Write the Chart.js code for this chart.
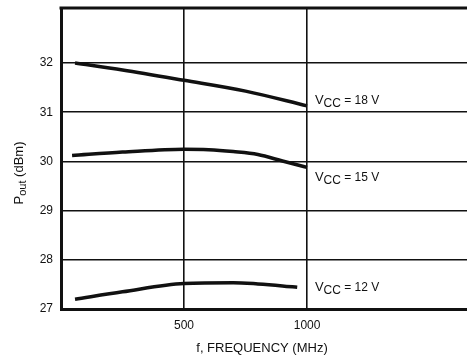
<!DOCTYPE html>
<html><head><meta charset="utf-8">
<script src="https://cdn.jsdelivr.net/npm/chart.js@4"></script>
<style>html,body{margin:0;padding:0;background:#fff;overflow:hidden}canvas{display:block}</style>
</head><body><canvas id="c" width="467" height="360"></canvas>
<script>
// ---- data ----
const freqTicks = [500, 1000];
const poutTicks = [27, 28, 29, 30, 31, 32];
const vccValues = ['18', '15', '12'];
const freq18 = [57, 250, 500, 750, 1000];
const pout18 = [32.0, 31.86, 31.65, 31.43, 31.13];
const freq15 = [45, 250, 500, 600, 700, 800, 900, 1000];
const pout15 = [30.12, 30.19, 30.25, 30.24, 30.2, 30.14, 30.01, 29.88];
const freq12 = [57, 250, 500, 700, 800, 900, 960];
const pout12 = [27.2, 27.35, 27.52, 27.535, 27.51, 27.47, 27.44];
const xTitle = 'f, FREQUENCY (MHz)';

const FONT = '"Liberation Sans Narrow", "Liberation Sans", Arial, sans-serif';
const INK = '#111';
const toPts = (xs, ys) => xs.map((x, i) => ({x, y: ys[i]}));

function mixedWidth(ctx, parts) {
  let w = 0;
  for (const p of parts) { ctx.font = p.size + 'px ' + FONT; w += ctx.measureText(p.t).width; }
  return w;
}
function drawMixed(ctx, parts, x, y) {
  let cx = x;
  for (const p of parts) {
    ctx.font = p.size + 'px ' + FONT;
    ctx.fillText(p.t, cx, y + (p.dy || 0));
    cx += ctx.measureText(p.t).width;
  }
}

const decor = {
  id: 'decor',
  afterDraw(chart) {
    const {ctx, chartArea: a, scales: {x, y}} = chart;
    ctx.save();
    // top frame line
    ctx.strokeStyle = INK; ctx.lineWidth = 3;
    ctx.beginPath(); ctx.moveTo(a.left - 1.5, a.top); ctx.lineTo(a.right, a.top); ctx.stroke();
    ctx.fillStyle = INK;
    ctx.textBaseline = 'alphabetic';
    // series labels
    const anchors = [[1032, 31.17], [1032, 29.60], [1032, 27.37]];
    vccValues.forEach((v, i) => {
      const px = x.getPixelForValue(anchors[i][0]);
      const py = y.getPixelForValue(anchors[i][1]);
      drawMixed(ctx, [
        {t: 'V', size: 13},
        {t: 'CC', size: 12, dy: 3},
        {t: ' = ' + v + ' V', size: 12}
      ], px, py);
    });
    // x title
    ctx.textAlign = 'left';
    ctx.font = '13px ' + FONT;
    const tw = ctx.measureText(xTitle).width;
    ctx.fillText(xTitle, 262 - tw / 2, 352);
    // y title (rotated)
    const parts = [{t: 'P', size: 13}, {t: 'out', size: 11, dy: 3}, {t: ' (dBm)', size: 13}];
    const w = mixedWidth(ctx, parts);
    ctx.translate(23, 173);
    ctx.rotate(-Math.PI / 2);
    drawMixed(ctx, parts, -w / 2, 0);
    ctx.restore();
  }
};

const lineStyle = {borderColor: INK, borderWidth: 3.5, pointRadius: 0, fill: false,
  cubicInterpolationMode: 'monotone', borderCapStyle: 'butt'};

new Chart(document.getElementById('c'), {
  type: 'line',
  data: {
    datasets: [
      {label: 'VCC = 18 V', data: toPts(freq18, pout18), ...lineStyle},
      {label: 'VCC = 15 V', data: toPts(freq15, pout15), ...lineStyle},
      {label: 'VCC = 12 V', data: toPts(freq12, pout12), ...lineStyle}
    ]
  },
  options: {
    responsive: false, animation: false, devicePixelRatio: 1,
    layout: {padding: {top: 8, left: 0, right: 0, bottom: 0}},
    plugins: {legend: {display: false}, tooltip: {enabled: false}},
    scales: {
      x: {
        type: 'linear', min: 0, max: 1650,
        afterBuildTicks: s => { s.ticks = freqTicks.map(v => ({value: v})); },
        afterFit: s => { s.height = 51; s.paddingLeft = 0; s.paddingRight = 0; },
        ticks: {color: INK, font: {family: FONT, size: 12}, padding: 9, maxRotation: 0,
          callback: v => String(v)},
        grid: {color: INK, lineWidth: 1.6, drawTicks: false},
        border: {display: true, color: INK, width: 3}
      },
      y: {
        min: 27, max: 33.12,
        afterBuildTicks: s => { s.ticks = poutTicks.map(v => ({value: v})); },
        afterFit: s => { s.width = 61; s.paddingTop = 0; s.paddingBottom = 0; },
        ticks: {color: INK, font: {family: FONT, size: 12}, padding: 8,
          callback: v => String(v)},
        grid: {color: INK, lineWidth: 1.6, drawTicks: false},
        border: {display: true, color: INK, width: 3}
      }
    }
  },
  plugins: [decor]
});
</script>
</body></html>
